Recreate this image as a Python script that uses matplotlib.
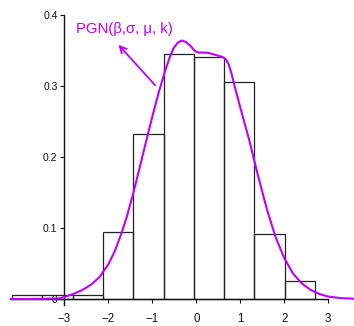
import matplotlib
matplotlib.use("Agg")
import matplotlib.pyplot as plt

plt.rcParams['font.family'] = ['Liberation Sans', 'DejaVu Sans']

# Histogram data
bin_left = [-4.19, -3.50, -2.81, -2.12, -1.43, -0.745, -0.056, 0.633, 1.322, 2.011]
bin_width = 0.689
bin_height = [0.0063, 0.0063, 0.0063, 0.095, 0.233, 0.345, 0.341, 0.305, 0.0915, 0.026]

# Fitted density curve
curve_x = [-4.24, -3.5, -3.1, -2.8, -2.6, -2.4, -2.2, -2.0, -1.85, -1.7, -1.58, -1.43, -1.30,
           -1.15, -1.0, -0.85, -0.70, -0.60, -0.52, -0.42, -0.33, -0.24, -0.14, -0.03, 0.05,
           0.12, 0.22, 0.31, 0.42, 0.54, 0.62, 0.68, 0.74, 0.80, 0.88, 1.0, 1.2, 1.4, 1.6,
           1.8, 2.0, 2.2, 2.4, 2.6, 2.8, 3.0, 3.3, 3.59]
curve_y = [0.0, 0.0002, 0.001, 0.007, 0.0125, 0.020, 0.031, 0.049, 0.068, 0.093, 0.116,
           0.150, 0.182, 0.220, 0.257, 0.292, 0.323, 0.341, 0.353, 0.361, 0.364, 0.362,
           0.357, 0.349, 0.347, 0.347, 0.347, 0.346, 0.344, 0.342, 0.340, 0.337, 0.330,
           0.318, 0.298, 0.270, 0.225, 0.175, 0.128, 0.088, 0.058, 0.036, 0.022, 0.013,
           0.007, 0.0035, 0.0012, 0.0004]

x_ticks = [-3, -2, -1, 0, 1, 2, 3]
y_ticks = [0, 0.1, 0.2, 0.3, 0.4]
y_tick_labels = ['0', '0.1', '0.2', '0.3', '0.4']
label_text = 'PGN(β,σ, μ, k)'

purple = '#C000FF'

fig = plt.figure(figsize=(3.54, 3.26), dpi=100)
ax = fig.add_axes([0.0282, 0.0632, 0.9718, 0.891])

ax.bar(bin_left, bin_height, width=bin_width, align='edge', facecolor='none',
       edgecolor='#222222', linewidth=0.9, zorder=2)
ax.plot(curve_x, curve_y, color=purple, linewidth=1.5, zorder=4, solid_joinstyle='round')

ax.set_xlim(-4.24, 3.59)
ax.set_ylim(-0.009, 0.4)

for s in ['top', 'right']:
    ax.spines[s].set_visible(False)
ax.spines['left'].set_position(('data', -3))
ax.spines['bottom'].set_position(('data', 0))
ax.spines['bottom'].set_bounds(-4.24, 3)
ax.spines['left'].set_zorder(3)
ax.spines['bottom'].set_zorder(3)
for s in ['left', 'bottom']:
    ax.spines[s].set_linewidth(1.0)
    ax.spines[s].set_color('#111111')

ax.set_xticks(x_ticks)
ax.set_xticklabels([f'\u2212{abs(v)}' if v < 0 else str(v) for v in x_ticks])
ax.set_yticks(y_ticks)
ax.set_yticklabels(y_tick_labels)
ax.tick_params(axis='x', direction='out', length=3, width=0.8, pad=7, labelsize=8.3,
               colors='#111111')
ax.tick_params(axis='y', direction='out', length=3, width=0.8, pad=2, labelsize=7.5,
               colors='#111111')
ax.patch.set_visible(False)

ax.text(-2.734, 0.380, label_text, color=purple, fontsize=10.7, ha='left', va='center')
ax.annotate('', xy=(-1.771, 0.358), xytext=(-0.937, 0.301),
            arrowprops=dict(arrowstyle='->', color=purple, lw=1.3, mutation_scale=12,
                            shrinkA=0, shrinkB=0))

fig.savefig('out.png', dpi=100)
